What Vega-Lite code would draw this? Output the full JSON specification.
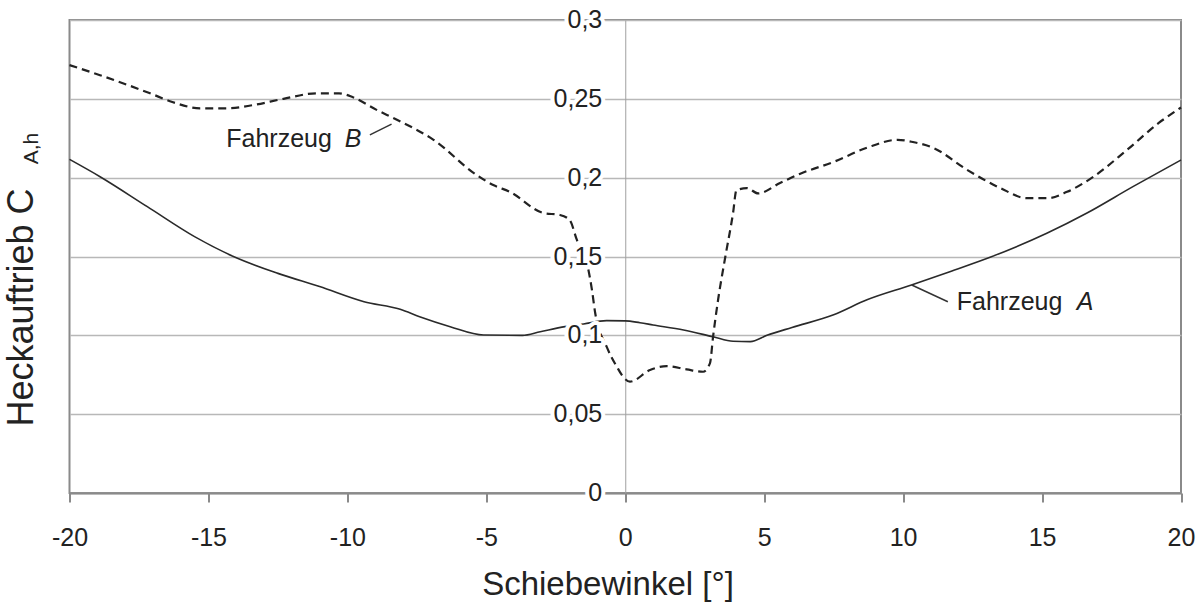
{
  "$schema": "https://vega.github.io/schema/vega-lite/v6.json",
  "width": 1111.5,
  "height": 473,
  "autosize": {"type": "none"},
  "padding": {"left": 69.5, "top": 20, "right": 20, "bottom": 111},
  "background": "white",
  "config": {"view": {"stroke": "#8a8a8a", "strokeWidth": 2}, "font": "Liberation Sans"},
  "datasets": {
    "curveA": [
      {"x": -20, "y": 0.2116}, {"x": -18.9, "y": 0.2006}, {"x": -17.2, "y": 0.1816}, {"x": -15.5, "y": 0.1626},
      {"x": -14.1, "y": 0.150}, {"x": -12.5, "y": 0.1393}, {"x": -11.0, "y": 0.1309}, {"x": -9.4, "y": 0.1213},
      {"x": -8.1, "y": 0.1165}, {"x": -7.4, "y": 0.1118}, {"x": -6.3, "y": 0.1055}, {"x": -5.1, "y": 0.1002},
      {"x": -3.7, "y": 0.1000}, {"x": -3.06, "y": 0.1023}, {"x": -2.17, "y": 0.1055}, {"x": -1.5, "y": 0.1072},
      {"x": -0.67, "y": 0.1093}, {"x": 0.0, "y": 0.1092}, {"x": 0.53, "y": 0.1080}, {"x": 1.0, "y": 0.1066},
      {"x": 2.1, "y": 0.1034}, {"x": 3.16, "y": 0.0991}, {"x": 3.88, "y": 0.0962}, {"x": 4.5, "y": 0.0960},
      {"x": 5.1, "y": 0.1000}, {"x": 6.0, "y": 0.1050}, {"x": 7.5, "y": 0.1130}, {"x": 8.7, "y": 0.1225},
      {"x": 10.3, "y": 0.1319}, {"x": 11.68, "y": 0.1404}, {"x": 13.2, "y": 0.150}, {"x": 15.17, "y": 0.1647},
      {"x": 16.6, "y": 0.1774}, {"x": 18.27, "y": 0.1943}, {"x": 20, "y": 0.2112}
    ],
    "curveB": [
      {"x": -20, "y": 0.2714}, {"x": -18.9, "y": 0.265}, {"x": -17.1, "y": 0.2535}, {"x": -16.3, "y": 0.248},
      {"x": -15.3, "y": 0.244}, {"x": -14.3, "y": 0.244}, {"x": -13.4, "y": 0.246}, {"x": -12.3, "y": 0.250},
      {"x": -11.1, "y": 0.2535}, {"x": -10.3, "y": 0.2535}, {"x": -9.8, "y": 0.251}, {"x": -8.95, "y": 0.243},
      {"x": -8.2, "y": 0.2366}, {"x": -6.9, "y": 0.224}, {"x": -5.35, "y": 0.2017}, {"x": -4.75, "y": 0.1953},
      {"x": -4.15, "y": 0.191}, {"x": -2.95, "y": 0.1776}, {"x": -2.35, "y": 0.1763}, {"x": -2.0, "y": 0.1731},
      {"x": -1.74, "y": 0.1605}, {"x": -1.38, "y": 0.1459}, {"x": -1.2, "y": 0.129}, {"x": -1.08, "y": 0.114},
      {"x": -0.67, "y": 0.0928}, {"x": -0.3, "y": 0.080}, {"x": -0.08, "y": 0.0738}, {"x": 0.17, "y": 0.0706},
      {"x": 0.89, "y": 0.078}, {"x": 1.49, "y": 0.0805}, {"x": 2.21, "y": 0.0784}, {"x": 2.8, "y": 0.0769},
      {"x": 3.05, "y": 0.0824}, {"x": 3.16, "y": 0.0991}, {"x": 3.34, "y": 0.1224}, {"x": 3.6, "y": 0.1497},
      {"x": 3.88, "y": 0.1776}, {"x": 4.0, "y": 0.192}, {"x": 4.38, "y": 0.1934}, {"x": 4.78, "y": 0.190},
      {"x": 5.57, "y": 0.1966}, {"x": 6.3, "y": 0.2025}, {"x": 7.5, "y": 0.210}, {"x": 8.7, "y": 0.219},
      {"x": 9.8, "y": 0.224}, {"x": 10.35, "y": 0.2226}, {"x": 11.07, "y": 0.219}, {"x": 12.3, "y": 0.205},
      {"x": 13.5, "y": 0.1934}, {"x": 14.45, "y": 0.187}, {"x": 15.2, "y": 0.187}, {"x": 15.9, "y": 0.191},
      {"x": 16.8, "y": 0.200}, {"x": 18.05, "y": 0.2175}, {"x": 19.2, "y": 0.2347}, {"x": 20, "y": 0.2445}
    ],
    "leaders": [
      {"x": -9.19, "y": 0.2271, "x2": -8.41, "y2": 0.234},
      {"x": 10.31, "y": 0.1319, "x2": 11.61, "y2": 0.1213}
    ],
    "notes": [
      {"x": -14.36, "y": 0.2196, "t": "Fahrzeug", "it": 0},
      {"x": -10.09, "y": 0.2196, "t": "B", "it": 1},
      {"x": 11.93, "y": 0.1161, "t": "Fahrzeug", "it": 0},
      {"x": 16.25, "y": 0.1161, "t": "A", "it": 1}
    ],
    "ylabels": [
      {"x": 0, "y": 0, "l": "0"}, {"x": 0, "y": 0.05, "l": "0,05"}, {"x": 0, "y": 0.1, "l": "0,1"},
      {"x": 0, "y": 0.15, "l": "0,15"}, {"x": 0, "y": 0.2, "l": "0,2"}, {"x": 0, "y": 0.25, "l": "0,25"},
      {"x": 0, "y": 0.3, "l": "0,3"}
    ],
    "sub": [{"x": -21.35, "y": 0.2185, "t": "A,h"}]
  },
  "encoding": {
    "x": {
      "field": "x", "type": "quantitative",
      "scale": {"domain": [-20, 20], "nice": false, "zero": false},
      "axis": {
        "values": [-20, -15, -10, -5, 0, 5, 10, 15, 20],
        "labelExpr": "replace(datum.label, '\u2212', '-')",
        "title": "Schiebewinkel [°]", "grid": false,
        "domainColor": "#8a8a8a", "domainWidth": 2,
        "tickColor": "#8a8a8a", "tickWidth": 2, "tickSize": 9,
        "labelFont": "Liberation Sans", "labelFontSize": 25, "labelColor": "#222",
        "labelPadding": 23, "labelFlush": false, "labelOverlap": false,
        "titleFont": "Liberation Sans", "titleFontSize": 33, "titleFontWeight": "normal", "titleColor": "#222",
        "titleX": 538, "titleY": 75, "titleAlign": "center", "titleBaseline": "top"
      }
    },
    "y": {
      "field": "y", "type": "quantitative",
      "scale": {"domain": [0, 0.3], "nice": false, "zero": false},
      "axis": {
        "values": [0, 0.05, 0.1, 0.15, 0.2, 0.25, 0.3],
        "offset": -555.75, "labels": false, "ticks": false,
        "domainColor": "#a0a0a0", "domainWidth": 1,
        "grid": true, "gridColor": "#b8b8b8", "gridWidth": 1.5,
        "title": "Heckauftrieb C",
        "titleFont": "Liberation Sans", "titleFontSize": 36, "titleFontWeight": "normal", "titleColor": "#222",
        "titleAngle": -90, "titleX": -604, "titleY": 287, "titleAlign": "center", "titleBaseline": "middle"
      }
    }
  },
  "layer": [
    {
      "data": {"name": "curveA"},
      "mark": {"type": "line", "interpolate": "monotone", "color": "#2a2a2a", "strokeWidth": 1.6}
    },
    {
      "data": {"name": "curveB"},
      "mark": {"type": "line", "interpolate": "monotone", "color": "#222", "strokeWidth": 2.2, "strokeDash": [8, 5]}
    },
    {
      "data": {"name": "leaders"},
      "mark": {"type": "rule", "color": "#333", "strokeWidth": 1.5},
      "encoding": {"x2": {"field": "x2"}, "y2": {"field": "y2"}}
    },
    {
      "data": {"name": "notes"},
      "transform": [{"filter": "datum.it == 0"}],
      "mark": {"type": "text", "align": "left", "baseline": "alphabetic", "font": "Liberation Sans", "fontSize": 25, "fill": "#222"},
      "encoding": {"text": {"field": "t"}}
    },
    {
      "data": {"name": "notes"},
      "transform": [{"filter": "datum.it == 1"}],
      "mark": {"type": "text", "align": "left", "baseline": "alphabetic", "font": "Liberation Sans", "fontSize": 25, "fontStyle": "italic", "fill": "#222"},
      "encoding": {"text": {"field": "t"}}
    },
    {
      "data": {"name": "ylabels"},
      "mark": {"type": "text", "align": "right", "baseline": "middle", "dx": -23, "font": "Liberation Sans", "fontSize": 25, "fill": "white", "stroke": "white", "strokeWidth": 8, "strokeJoin": "round"},
      "encoding": {"text": {"field": "l"}}
    },
    {
      "data": {"name": "ylabels"},
      "mark": {"type": "text", "align": "right", "baseline": "middle", "dx": -23, "font": "Liberation Sans", "fontSize": 25, "fill": "#222"},
      "encoding": {"text": {"field": "l"}}
    },
    {
      "data": {"name": "sub"},
      "mark": {"type": "text", "align": "center", "baseline": "middle", "angle": 270, "font": "Liberation Sans", "fontSize": 21, "fill": "#222"},
      "encoding": {"text": {"field": "t"}}
    }
  ]
}
